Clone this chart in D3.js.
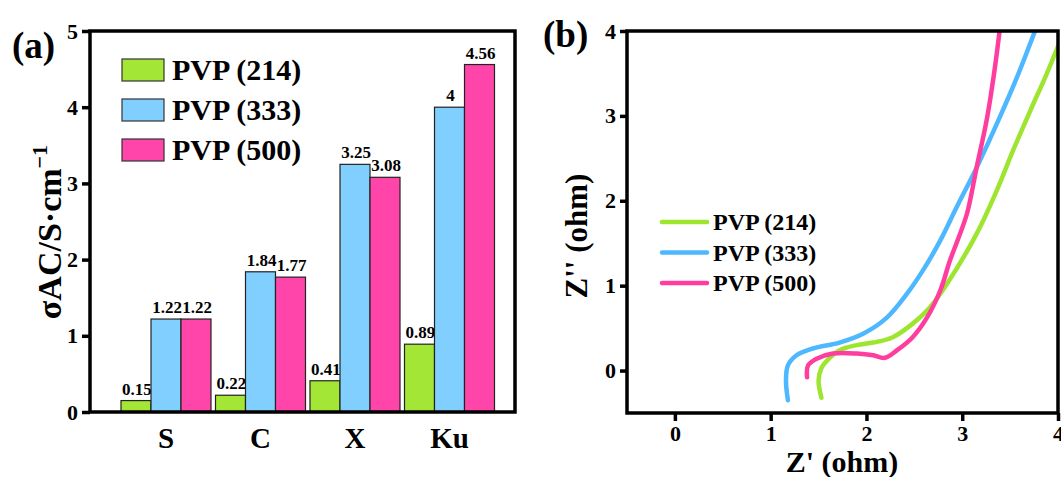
<!DOCTYPE html>
<html><head><meta charset="utf-8">
<script src="https://cdn.jsdelivr.net/npm/d3@7/dist/d3.min.js"></script>
<style>body{margin:0;background:#fff}svg{display:block}text{font-family:"Liberation Serif","Times New Roman",serif;font-weight:bold;fill:#000}</style>
</head><body><svg id="c" width="1061" height="477"></svg>
<script>
// ---- data ----
const bands = ["S", "C", "X", "Ku"];
const seriesNames = ["PVP (214)", "PVP (333)", "PVP (500)"];
const pvp214 = [0.15, 0.22, 0.41, 0.89];
const pvp333 = [1.22, 1.84, 3.25, 4];
const pvp500 = [1.22, 1.77, 3.08, 4.56];
const yTicksA = [0, 1, 2, 3, 4, 5];
const xTicksB = [0, 1, 2, 3, 4];
const yTicksB = [0, 1, 2, 3, 4];
// Nyquist curves [Z', Z'']
const nyq214 = [[1.53,-0.32],[1.50,-0.12],[1.53,0.03],[1.59,0.12],[1.72,0.24],[1.9,0.30],[2.07,0.33],[2.27,0.39],[2.48,0.55],[2.66,0.74],[2.84,1.02],[3.15,1.61],[3.36,2.12],[3.53,2.59],[3.71,3.06],[3.88,3.49],[4.0,3.82]];
const nyq333 = [[1.18,-0.35],[1.16,-0.12],[1.18,0.06],[1.27,0.18],[1.44,0.26],[1.72,0.33],[1.96,0.43],[2.21,0.62],[2.42,0.90],[2.59,1.18],[2.77,1.53],[2.94,1.92],[3.15,2.39],[3.39,2.98],[3.57,3.45],[3.76,4.0]];
const nyq500 = [[1.38,-0.08],[1.39,0.06],[1.48,0.14],[1.65,0.20],[1.90,0.20],[2.07,0.18],[2.19,0.15],[2.32,0.24],[2.48,0.39],[2.63,0.62],[2.77,0.94],[2.87,1.29],[2.95,1.53],[3.05,1.85],[3.15,2.39],[3.26,2.98],[3.34,3.56],[3.39,4.0]];

const barColors = ["#A3E635", "#80CFFF", "#FF44AA"];
const lineColors = ["#9DE52F", "#4DB8FF", "#FF3D9E"];

const svg = d3.select("#c");

// ================= Panel (a) =================
const A = {l: 90, r: 515, t: 31, b: 412};
const x0 = d3.scaleBand().domain(bands).range([118.75, 496.75]).paddingInner(0.0476).paddingOuter(0.0238);
const x1 = d3.scaleBand().domain(seriesNames).range([0, x0.bandwidth()]);
const yA = d3.scaleLinear().domain([0, 5]).range([A.b, A.t]);
const series = [pvp214, pvp333, pvp500];

const gA = svg.append("g");
series.forEach((vals, si) => {
  gA.selectAll(null).data(vals).enter().append("rect")
    .attr("x", (d, i) => x0(bands[i]) + x1(seriesNames[si]))
    .attr("y", d => yA(d))
    .attr("width", x1.bandwidth())
    .attr("height", d => yA(0) - yA(d))
    .attr("fill", barColors[si]).attr("stroke", "#222").attr("stroke-width", 1.2);
  gA.selectAll(null).data(vals).enter().append("text")
    .attr("x", (d, i) => x0(bands[i]) + x1(seriesNames[si]) + x1.bandwidth() / 2 + 1)
    .attr("y", d => yA(d) - 6)
    .attr("text-anchor", "middle").attr("font-size", 17)
    .text(d => String(d));
});

// frame
gA.append("rect").attr("x", A.l).attr("y", A.t).attr("width", A.r - A.l).attr("height", A.b - A.t)
  .attr("fill", "none").attr("stroke", "#000").attr("stroke-width", 3.5);

const axA = gA.append("g").attr("transform", `translate(${A.l},0)`)
  .call(d3.axisLeft(yA).tickValues(yTicksA).tickSize(8).tickPadding(4).tickFormat(d3.format("d")));
axA.select(".domain").remove();
axA.selectAll("line").attr("stroke", "#000").attr("stroke-width", 3.5);
axA.selectAll("text").attr("font-size", 22).attr("font-family", "Liberation Serif").attr("font-weight", "bold");

const axAx = gA.append("g").attr("transform", `translate(0,${A.b})`)
  .call(d3.axisBottom(x0).tickSize(0).tickPadding(15));
axAx.select(".domain").remove();
axAx.selectAll("text").attr("font-size", 29).attr("font-family", "Liberation Serif").attr("font-weight", "bold");

// y label
const ylab = gA.append("text").attr("transform", "translate(61,232) rotate(-90)")
  .attr("text-anchor", "middle").attr("font-size", 34);
ylab.append("tspan").text("σAC/S·cm");
ylab.append("tspan").attr("dy", -14).attr("font-size", 22).text("−1");

// legend
const legA = gA.append("g");
seriesNames.forEach((n, i) => {
  const yy = 59 + i * 40;
  legA.append("rect").attr("x", 122).attr("y", yy).attr("width", 42).attr("height", 22)
    .attr("fill", barColors[i]).attr("stroke", "#333").attr("stroke-width", 1.2);
  legA.append("text").attr("x", 172).attr("y", yy + 21).attr("font-size", 30).text(n);
});

gA.append("text").attr("x", 12).attr("y", 58).attr("font-size", 37).text("(a)");

// ================= Panel (b) =================
const B = {l: 627, r: 1058, t: 31, b: 413};
const xB = d3.scaleLinear().domain([-0.5, 4]).range([B.l, B.r]);
const yB = d3.scaleLinear().domain([-0.5, 4]).range([B.b, B.t]);
const gB = svg.append("g");
gB.append("clipPath").attr("id", "clipB").append("rect")
  .attr("x", B.l).attr("y", B.t).attr("width", B.r - B.l).attr("height", B.b - B.t);

const line = d3.line().x(d => xB(d[0])).y(d => yB(d[1])).curve(d3.curveCatmullRom.alpha(0.5));
[nyq214, nyq333, nyq500].forEach((pts, i) => {
  gB.append("path").attr("d", line(pts)).attr("fill", "none")
    .attr("stroke", lineColors[i]).attr("stroke-width", 4.5).attr("stroke-linecap", "round")
    .attr("clip-path", "url(#clipB)");
});

gB.append("rect").attr("x", B.l).attr("y", B.t).attr("width", B.r - B.l).attr("height", B.b - B.t)
  .attr("fill", "none").attr("stroke", "#000").attr("stroke-width", 3.5);

const axBy = gB.append("g").attr("transform", `translate(${B.l},0)`)
  .call(d3.axisLeft(yB).tickValues(yTicksB).tickSize(7).tickPadding(4).tickFormat(d3.format("d")));
axBy.select(".domain").remove();
axBy.selectAll("line").attr("stroke", "#000").attr("stroke-width", 3.5);
axBy.selectAll("text").attr("font-size", 22).attr("font-family", "Liberation Serif").attr("font-weight", "bold");

const axBx = gB.append("g").attr("transform", `translate(0,${B.b})`)
  .call(d3.axisBottom(xB).tickValues(xTicksB).tickSize(8).tickPadding(4).tickFormat(d3.format("d")));
axBx.select(".domain").remove();
axBx.selectAll("line").attr("stroke", "#000").attr("stroke-width", 3.5);
axBx.selectAll("text").attr("font-size", 22).attr("font-family", "Liberation Serif").attr("font-weight", "bold");

gB.append("text").attr("x", 842).attr("y", 472).attr("text-anchor", "middle").attr("font-size", 30).text("Z' (ohm)");
gB.append("text").attr("transform", "translate(587,236) rotate(-90)").attr("text-anchor", "middle").attr("font-size", 31).text("Z'' (ohm)");

seriesNames.forEach((n, i) => {
  const yy = 222 + i * 30.5;
  gB.append("line").attr("x1", 662).attr("x2", 707).attr("y1", yy).attr("y2", yy)
    .attr("stroke", lineColors[i]).attr("stroke-width", 4.5).attr("stroke-linecap", "round");
  gB.append("text").attr("x", 713).attr("y", yy + 8).attr("font-size", 24).text(n);
});

gB.append("text").attr("x", 543).attr("y", 47).attr("font-size", 37).text("(b)");
</script></body></html>
